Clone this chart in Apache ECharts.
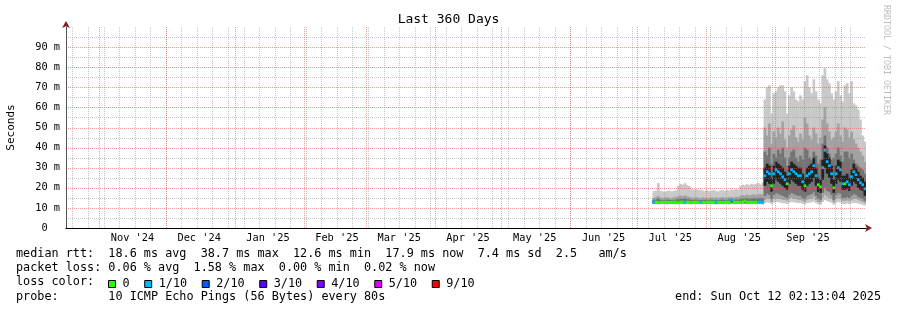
<!DOCTYPE html>
<html><head><meta charset="utf-8">
<script src="https://cdn.jsdelivr.net/npm/echarts@6/dist/echarts.min.js"></script>
<style>html,body{margin:0;padding:0;background:#fff}#c{width:897px;height:310px}</style>
</head><body><div id="c"></div>
<script>
// ---- time frame ----
const END = Date.UTC(2025, 9, 12, 2, 13, 4);
const DAY = 86400000;
const START = END - 360 * DAY;
const FIRST_BIN = Date.UTC(2025, 6, 8); // first daily bin (Jul 8 2025)

// ---- tick labels / grid ----
const monthLabels = ["Nov '24", "Dec '24", "Jan '25", "Feb '25", "Mar '25", "Apr '25", "May '25", "Jun '25", "Jul '25", "Aug '25", "Sep '25"];
const monthStarts = ['2024-11-01', '2024-12-01', '2025-01-01', '2025-02-01', '2025-03-01', '2025-04-01', '2025-05-01', '2025-06-01', '2025-07-01', '2025-08-01', '2025-09-01', '2025-10-01'];
const firstSunday = '2024-10-20';
const yLabels = [0, 10, 20, 30, 40, 50, 60, 70, 80, 90];
const yMajor = [10, 20, 30, 40, 50, 60, 70, 80, 90];
const yMinor = [5, 15, 25, 35, 45, 55, 65, 75, 85, 95];

// ---- loss legend ----
const lossNames = ['0', '1/10', '2/10', '3/10', '4/10', '5/10', '9/10'];
const lossColors = ['#26ff00', '#00b8ff', '#0059ff', '#5e00ff', '#7e00ff', '#dd00ff', '#ff0000'];

// ---- smoke bands (ms), one value per daily bin, 96 bins ----
const lo1 = [11.8,11.9,11.7,11.8,11.9,11.8,11.7,11.8,11.9,11.8,11.8,11.7,11.9,11.8,11.8,11.9,11.8,11.7,11.8,11.9,11.8,11.8,11.7,11.9,11.8,11.8,11.9,11.8,11.7,11.8,11.8,11.9,11.8,11.8,11.7,11.9,11.8,11.8,11.9,11.8,11.8,11.9,11.7,11.8,11.9,11.8,11.8,11.9,11.8,11.8,
  12.5,12.8,12.6,11.8,12.6,13,12.8,12.6,12.4,12.3,12,12.6,13,12.8,12.6,12.4,12.4,12,11.7,12.4,12.6,12.8,13.2,12.4,11.8,11.6,13,14,13.4,13,12.6,11.6,12.6,13,12.7,12,12,12.2,11.9,12.3,12.6,12.5,12.2,11.9,11.6,11.2];
const hi1 = [18.3,18.6,22.4,18.5,18.2,18.0,18.4,18.7,18.2,18.5,18.8,21.0,22.0,21.6,22.3,21.4,20.8,19.3,19.0,19.4,18.9,19.1,18.6,18.4,18.8,18.3,18.6,18.9,18.5,18.2,18.7,18.9,18.4,19.0,18.6,19.2,18.8,19.4,19.0,20.8,21.5,21.2,21.8,21.3,22.0,21.6,21.9,22.4,21.7,22.6,
  64,70,71,57,67,68,70,71,71,68,57,66,70,68,64,63,66,64,73,76,70,67,74,68,64,62,76,79.5,74,72,67,64,68,73,66,63,71,72,67,73,62,61,59,54,46,43];
const lo2 = [12.1,12.2,12.0,12.1,12.2,12.1,12.0,12.1,12.2,12.1,12.1,12.0,12.2,12.1,12.1,12.2,12.1,12.0,12.1,12.2,12.1,12.1,12.0,12.2,12.1,12.1,12.2,12.1,12.0,12.1,12.1,12.2,12.1,12.1,12.0,12.3,12.1,12.1,12.2,12.1,12.1,12.2,12.0,12.1,12.2,12.1,12.1,12.2,12.1,12.1,
  14,14.5,14.5,13,14.5,15,14.5,14.5,14,14,13.5,14.5,15,14.5,14.5,14,14,13.5,13,14,14.5,14.5,15.5,14,13,12.8,15,16.5,15.5,15,14.5,12.8,14.5,15,14.5,13.5,13.5,13.8,13.5,14,14.5,14.5,14,13.5,13,12.5];
const hi2 = [15.0,15.3,16.0,15.2,14.9,15.1,15.3,15.0,14.8,15.2,15.4,15.8,16.2,15.9,16.3,15.7,15.5,15.2,15.0,15.3,15.1,14.9,15.2,15.0,14.8,15.1,15.3,15.0,15.2,14.9,15.1,15.4,15.0,15.2,15.5,15.3,15.1,15.6,15.4,16.0,16.4,16.1,16.6,16.2,16.5,16.8,16.3,16.7,17.0,16.6,
  50,46,52,42,48,45,50,47,53,44,40,46,49,51,45,43,47,44,55,52,46,44,50,47,42,45,54,60,52,48,44,45,48,52,46,43,50,49,45,48,44,42,40,38,36,33];
const lo3 = [12.3,12.3,12.2,12.3,12.4,12.3,12.2,12.3,12.3,12.3,12.3,12.2,12.4,12.3,12.3,12.4,12.3,12.2,12.3,12.3,12.3,12.3,12.2,12.4,12.3,12.3,12.3,12.3,12.2,12.3,12.3,12.4,12.3,12.3,12.2,12.5,12.3,12.3,12.3,12.3,12.3,12.4,12.2,12.3,12.3,12.3,12.3,12.4,12.3,12.3,
  16,17,16.5,14.5,16.5,17.5,17,16.5,16,15.5,15,16.5,17.5,17,16.5,16,16,15,14.5,16,16.5,17,18,16,14.5,14,17.5,20,18.5,18,16.5,14,16.5,17.5,17,15,15,15.5,15,16,17,16.5,15.5,15,14.5,13.5];
const hi3 = [14.0,14.1,14.6,14.0,13.9,14.0,14.1,14.0,13.9,14.0,14.1,14.4,14.6,14.5,14.7,14.3,14.2,14.0,13.9,14.1,14.0,13.9,14.0,13.9,13.8,14.0,14.1,13.9,14.0,13.9,14.0,14.1,13.9,14.0,14.2,14.8,14.0,14.2,14.1,14.5,14.7,14.9,14.8,14.6,14.7,14.9,14.6,14.8,15.0,14.8,
  38,36,40,32,37,35,39,37,40,35,31,35,38,39,35,33,36,34,40,39,35,34,38,36,32,34,42,46,40,37,34,35,37,40,36,33,38,38,35,37,34,32,31,30,29,27];
const lo4 = [12.4,12.5,12.4,12.4,12.5,12.4,12.4,12.4,12.5,12.4,12.4,12.4,12.5,12.5,12.4,12.5,12.4,12.4,12.4,12.5,12.4,12.5,12.4,12.4,12.4,12.5,12.4,12.4,12.5,12.4,12.4,12.4,12.4,12.5,12.4,12.9,12.5,12.4,12.4,12.4,12.5,12.8,12.4,12.5,12.4,12.4,12.5,12.5,12.5,12.4,
  21,23,22,18,22,24,23,22,21,20,19,22,24,23,22,21,21,19,18,21,22,23,25,21,18,17.5,24,30,27,25,22,17.5,22,24,23,19,19,19.5,18.5,21,23,22,20,19,18.5,16];
const hi4 = [13.3,13.4,13.5,13.3,13.3,13.4,13.3,13.2,13.3,13.4,13.3,13.4,13.5,13.6,13.5,13.4,13.3,13.2,13.3,13.4,13.3,13.5,13.3,13.2,13.3,13.4,13.3,13.3,13.5,13.4,13.3,13.2,13.3,13.4,13.3,14.4,13.4,13.3,13.3,13.3,13.4,14.0,13.4,13.5,13.4,13.3,13.5,13.6,13.5,13.4,
  30,32,31,25,31,33,32,31,30,28,26,31,33,32,31,30,30,27,25,30,31,32,35,30,25,24,34,41,37,35,31,24,31,34,33,26,26,27,25,29,32,30,28,26,25,23];
const median = [12.8,12.9,12.7,12.8,12.8,12.9,12.8,12.7,12.8,12.9,12.8,12.6,12.9,13.0,12.9,12.8,12.8,12.7,12.8,12.9,12.8,13.0,12.8,12.7,12.8,12.9,12.8,12.8,13.0,12.9,12.8,12.7,12.8,12.9,12.8,13.9,12.9,12.8,12.8,12.7,12.9,13.5,12.8,12.9,12.8,12.7,12.9,13.0,12.9,12.8,
  26,28,27,21,27,29,28,27,25.5,24,22,27,29,28,27,26,26,23,21,26,27,28,31,26,21.5,20.5,30,38.7,33,31,27,20,27,30,29,22,22,23,21.5,25.5,28,26.5,24,22.5,21.5,19.5];
const lossLevel = [1,0,0,0,0,0,0,0,0,0,0,0,0,0,1,0,0,0,0,0,0,1,0,0,0,0,0,0,1,0,0,0,0,0,0,1,0,0,0,0,0,0,0,0,0,0,0,1,1,1,
  1,1,1,0,1,1,1,1,1,1,0,1,1,1,1,1,1,1,0,1,1,1,1,1,0,0,1,1,1,1,1,0,1,1,1,1,0,1,1,1,1,1,1,1,1,1];

// ---- derived axis values ----
const binTimes = median.map((_, i) => FIRST_BIN + i * DAY);
const monthStartMs = monthStarts.map(s => Date.parse(s + 'T00:00:00Z'));
const labelMs = monthStartMs.slice(0, monthLabels.length).map(t => t + 15 * DAY);
const labelMap = {};
labelMs.forEach((t, i) => { labelMap[t] = monthLabels[i]; });
const weekMs = [];
for (let t = Date.parse(firstSunday + 'T00:00:00Z'); t < END; t += 7 * DAY) weekMs.push(t);

const MONO = '"DejaVu Sans Mono", monospace';
const GRAY_GRID = 'rgba(143,143,143,0.5)';
const RED_GRID = 'rgba(222,80,80,0.55)';
const ARROW = '#7f1f1f';

function band(name, lo, hi, color) {
  return {
    type: 'custom', name: name, silent: true, clip: true, z: 2,
    xAxisIndex: 0, yAxisIndex: 0,
    encode: { x: 0, y: [1, 2] },
    data: binTimes.map((t, i) => [t, lo[i], hi[i]]),
    renderItem: function (params, api) {
      const t = api.value(0);
      const a = api.coord([t, api.value(1)]);
      const b = api.coord([t + DAY, api.value(2)]);
      return { type: 'rect', shape: { x: a[0], y: b[1], width: b[0] - a[0] + 0.5, height: a[1] - b[1] }, style: { fill: color } };
    }
  };
}
function medianSeries(level) {
  const data = [];
  binTimes.forEach((t, i) => { if (lossLevel[i] === level) data.push([t, median[i]]); });
  return {
    type: 'custom', name: lossNames[level], silent: true, clip: true, z: 3,
    xAxisIndex: 0, yAxisIndex: 0,
    itemStyle: { color: lossColors[level] },
    encode: { x: 0, y: 1 },
    data: data,
    renderItem: function (params, api) {
      const t = api.value(0);
      const a = api.coord([t, api.value(1)]);
      const b = api.coord([t + DAY, api.value(1)]);
      return { type: 'rect', shape: { x: a[0], y: a[1] - 1.4, width: b[0] - a[0] + 0.5, height: 2.8 }, style: { fill: lossColors[level] } };
    }
  };
}
function vGrid(name, values, color) {
  return {
    type: 'custom', name: name, silent: true, clip: true, z: 4,
    xAxisIndex: 0, yAxisIndex: 0, encode: { x: 0, y: 1 },
    data: values.map(t => [t, 0]),
    renderItem: function (params, api) {
      const p0 = api.coord([api.value(0), 0]);
      const p1 = api.coord([api.value(0), 100]);
      const x = Math.round(p0[0]) + 0.5;
      return { type: 'line', shape: { x1: x, y1: p0[1], x2: x, y2: p1[1] }, style: { stroke: color, lineWidth: 1, lineDash: [1, 1] } };
    }
  };
}
function hGrid(name, values, color) {
  return {
    type: 'custom', name: name, silent: true, clip: true, z: 4,
    xAxisIndex: 0, yAxisIndex: 0, encode: { x: 0, y: 1 },
    data: values.map(v => [START, v]),
    renderItem: function (params, api) {
      const p0 = api.coord([START, api.value(1)]);
      const p1 = api.coord([END, api.value(1)]);
      const y = Math.round(p0[1]) + 0.5;
      return { type: 'line', shape: { x1: p0[0], y1: y, x2: p1[0], y2: y }, style: { stroke: color, lineWidth: 1, lineDash: [1, 1] } };
    }
  };
}

const series = [
  band('smoke1', lo1, hi1, '#c9c9c9'),
  band('smoke2', lo2, hi2, '#a2a2a2'),
  band('smoke3', lo3, hi3, '#747474'),
  band('smoke4', lo4, hi4, '#232323')
];
lossNames.forEach((n, k) => series.push(medianSeries(k)));
series.push(vGrid('weekGrid', weekMs, GRAY_GRID));
series.push(hGrid('minorGrid', yMinor, GRAY_GRID));
series.push(vGrid('monthGrid', monthStartMs, RED_GRID));
series.push(hGrid('majorGrid', yMajor, RED_GRID));

const option = {
  animation: false,
  backgroundColor: '#ffffff',
  title: {
    text: 'Last 360 Days', left: 'center', top: 8,
    textStyle: { fontFamily: MONO, fontSize: 13, fontWeight: 'normal', color: '#000' }
  },
  grid: { left: 66, right: 31, top: 27, bottom: 82, containLabel: false, outerBoundsMode: 'none' },
  xAxis: [
    { // labels + axis line
      type: 'value', min: START, max: END, position: 'bottom', z: 8,
      axisLine: { show: true, lineStyle: { color: '#000', width: 1 } },
      axisTick: { show: false },
      axisLabel: {
        customValues: labelMs, margin: 5, formatter: v => labelMap[v] || '',
        fontFamily: MONO, fontSize: 10.3, color: '#000'
      },
      splitLine: { show: false }
    },
    { // arrow
      type: 'value', min: START, max: END, position: 'bottom', z: 6,
      axisLabel: { show: false }, axisTick: { show: false }, splitLine: { show: false },
      axisLine: { show: true, lineStyle: { color: ARROW, width: 1 }, symbol: ['none', 'arrow'], symbolSize: [6, 7], symbolOffset: [0, 6] }
    }
  ],
  yAxis: [
    {
      type: 'value', min: 0, max: 100, position: 'left', z: 8,
      name: 'Seconds', nameLocation: 'middle', nameGap: 49, nameRotate: 90,
      nameTextStyle: { fontFamily: MONO, fontSize: 11, color: '#000' },
      axisLine: { show: true, lineStyle: { color: '#555', width: 1 } },
      axisTick: { show: false },
      axisLabel: {
        customValues: yLabels, margin: 6, formatter: v => (v === 0 ? '0  ' : v + ' m'),
        fontFamily: MONO, fontSize: 10.3, color: '#000'
      },
      splitLine: { show: false }
    },
    {
      type: 'value', min: 0, max: 100, position: 'left', z: 6,
      axisLabel: { show: false }, axisTick: { show: false }, splitLine: { show: false },
      axisLine: { show: true, lineStyle: { color: ARROW, width: 1 }, symbol: ['none', 'arrow'], symbolSize: [6, 7], symbolOffset: [0, 6] }
    }
  ],
  legend: {
    data: lossNames, left: 108, top: 278, orient: 'horizontal', padding: 0,
    icon: 'rect', itemWidth: 7, itemHeight: 7, itemGap: 14.6, selectedMode: false,
    itemStyle: { borderColor: '#000', borderWidth: 1 },
    textStyle: { fontFamily: MONO, fontSize: 11.8, color: '#000', padding: [0, 0, 0, 2] }
  },
  graphic: [
    { type: 'text', x: 16, y: 254, style: { text: 'median rtt:  18.6 ms avg  38.7 ms max  12.6 ms min  17.9 ms now  7.4 ms sd  2.5   am/s', font: '11.8px ' + MONO, fill: '#000', verticalAlign: 'middle' } },
    { type: 'text', x: 16, y: 268.3, style: { text: 'packet loss: 0.06 % avg  1.58 % max  0.00 % min  0.02 % now', font: '11.8px ' + MONO, fill: '#000', verticalAlign: 'middle' } },
    { type: 'text', x: 16, y: 282.3, style: { text: 'loss color:', font: '11.8px ' + MONO, fill: '#000', verticalAlign: 'middle' } },
    { type: 'text', x: 16, y: 296.7, style: { text: 'probe:       10 ICMP Echo Pings (56 Bytes) every 80s', font: '11.8px ' + MONO, fill: '#000', verticalAlign: 'middle' } },
    { type: 'text', x: 881, y: 296.7, style: { text: 'end: Sun Oct 12 02:13:04 2025', font: '11.8px ' + MONO, fill: '#000', align: 'right', verticalAlign: 'middle' } },
    { type: 'text', x: 886, y: 5, rotation: -Math.PI / 2, style: { text: 'RRDTOOL / TOBI OETIKER', font: '8.3px ' + MONO, fill: '#bdbdbd', align: 'left', verticalAlign: 'middle' } }
  ],
  series: series
};

const chart = echarts.init(document.getElementById('c'), null, { renderer: 'canvas' });
chart.setOption(option);
</script>
</body></html>
